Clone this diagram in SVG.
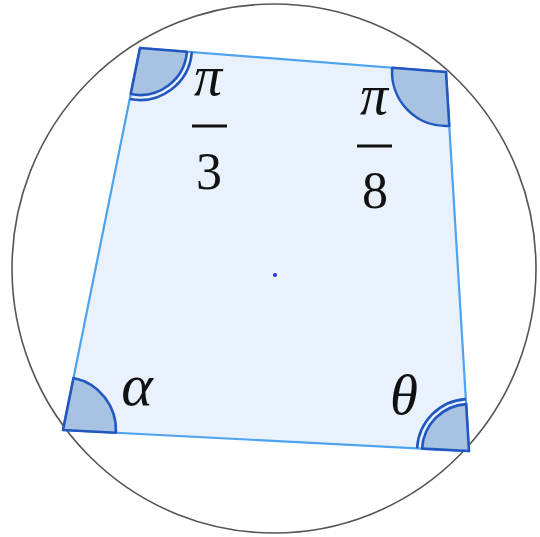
<svg xmlns="http://www.w3.org/2000/svg" width="540" height="537" viewBox="0 0 540 537">
<style>
.ang{fill:#a8c2e2;stroke:#2257c0;stroke-width:2.6;stroke-linejoin:round}
.arc{fill:none;stroke:#2257c0;stroke-width:2.6}
.lbl{font-family:"Liberation Serif","DejaVu Serif",serif;font-size:52px;fill:#111;text-anchor:middle}
.it{font-style:italic}
.big{font-size:60px}
.pi{font-size:56px}
.bar{stroke:#111;stroke-width:3}
</style>
<rect width="540" height="537" fill="#ffffff"/>
<g id="circle">
<ellipse cx="274" cy="268.5" rx="262" ry="264.5" fill="none" stroke="#555" stroke-width="1.6"/>
</g>
<g id="quad">
<polygon points="140,48 446,72 469,451 63,430" fill="#e8f1fc" stroke="#4da3ee" stroke-width="2.2"/>
</g>
<g id="angleA">
<path class="ang" d="M140,48 L186.9,51.7 A47,47 0 0 1 130.7,94.1 Z"/>
<path class="arc" d="M191.8,52.1 A52,52 0 0 1 129.7,99.0"/>
</g>
<g id="angleB">
<path class="ang" d="M446,72 L392.2,67.8 A54,54 0 0 0 449.3,125.9 Z"/>
</g>
<g id="angleC">
<path class="ang" d="M469,451 L466.2,404.1 A47,47 0 0 0 422.1,448.6 Z"/>
<path class="arc" d="M465.8,399.1 A52,52 0 0 0 417.1,448.3"/>
</g>
<g id="angleD">
<path class="ang" d="M63,430 L115.9,432.7 A53,53 0 0 0 73.5,378.0 Z"/>
</g>
<g id="labelA">
<text class="lbl it pi" x="208" y="95">π</text>
<line class="bar" x1="192" y1="126" x2="227" y2="126"/>
<text class="lbl" x="209" y="189">3</text>
</g>
<g id="labelB">
<text class="lbl it pi" x="374" y="114">π</text>
<line class="bar" x1="357" y1="146" x2="392" y2="146"/>
<text class="lbl" x="375" y="208">8</text>
</g>
<g id="labelD">
<text class="lbl it big" x="137" y="405">α</text>
</g>
<g id="labelC">
<text class="lbl it" x="404" y="414" style="font-size:57px">θ</text>
</g>
<g id="center">
<circle cx="275" cy="275" r="2" fill="#2233cc"/>
</g>
</svg>
